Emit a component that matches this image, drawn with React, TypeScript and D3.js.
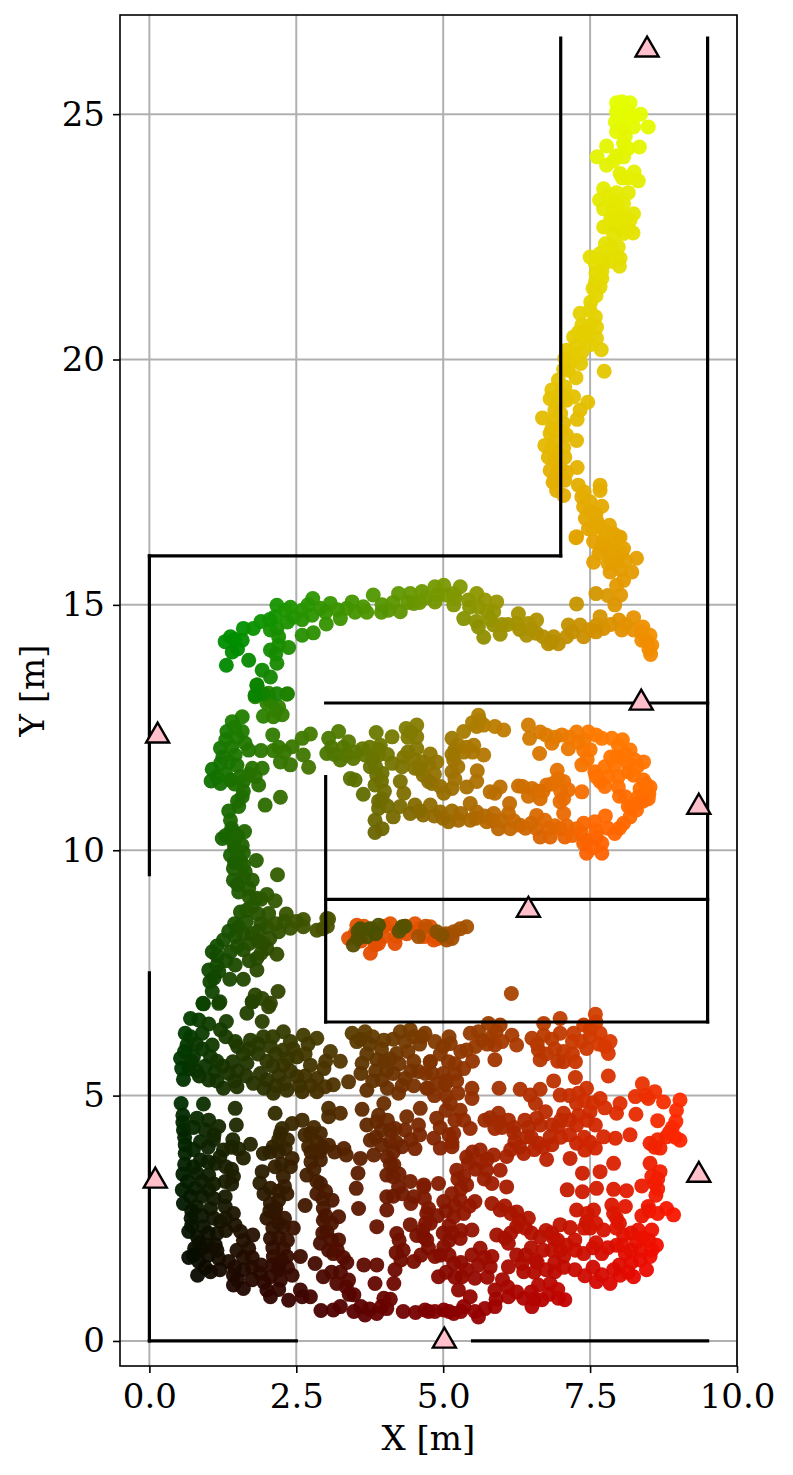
import React, { useEffect, useRef } from "react";
import * as d3 from "d3";

type Pt = [number, number];
type RoomPt = [number, number, number];

const xTicks = [0, 2.5, 5, 7.5, 10];
const yTicks = [0, 5, 10, 15, 20, 25];

// walls of the floor plan, [x1, y1, x2, y2] in metres
const walls = [
	[0, 0, 2.5, 0],
	[5.5, 0, 9.5, 0],
	[0, 0, 0, 7.5],
	[0, 9.5, 0, 16],
	[0, 16, 7, 16],
	[7, 16, 7, 26.55],
	[9.5, 6.5, 9.5, 26.55],
	[3, 6.5, 9.5, 6.5],
	[3, 6.5, 3, 11.5],
	[3, 9, 9.5, 9],
	[3, 13, 9.5, 13],
];

const anchors: Pt[] = [
	[8.47, 26.31],
	[8.37, 13.0],
	[9.35, 10.88],
	[6.45, 8.78],
	[0.14, 12.33],
	[0.1, 3.26],
	[9.35, 3.38],
	[5.02, 0.0],
];

const hallSouthWest: Pt[] = [
	[0.7, 6.57], [0.84, 6.54], [1.01, 6.46], [1.31, 6.51], [1.21, 6.34], [0.61, 6.27], [0.9, 6.27], [1.07, 6.03], [0.64, 6.03], [0.53, 5.76], [0.75, 5.79], [1.04, 5.79],
	[0.67, 5.55], [0.58, 5.33], [0.85, 5.4], [1.12, 5.49], [1.01, 5.32], [1.42, 5.69], [1.46, 6.1], [1.72, 6.13], [1.94, 6.2], [2.28, 6.3], [2.62, 6.23], [2.85, 6.17],
	[2.06, 6.0], [2.28, 5.93], [1.66, 5.66], [1.89, 5.45], [2.0, 5.32], [1.77, 5.25], [1.49, 5.18], [1.26, 5.15], [2.28, 5.62], [2.51, 5.79], [2.74, 5.62], [2.97, 5.55],
	[3.08, 5.9], [3.25, 5.7], [2.51, 5.39], [2.34, 5.11], [2.11, 5.05], [2.85, 5.08], [3.13, 5.22], [3.39, 5.28], [2.99, 5.18], [2.6, 5.08], [0.92, 6.87], [1.18, 6.88],
	[1.66, 6.68], [1.92, 6.51], [1.75, 6.91], [2.03, 6.81], [0.54, 4.84], [0.57, 4.6], [0.92, 4.83], [1.46, 4.74], [1.48, 4.4], [0.81, 4.54], [1.01, 4.5], [1.18, 4.37],
	[0.58, 4.3], [0.61, 4.0], [0.61, 3.82], [0.87, 4.06], [1.09, 4.1], [1.42, 4.1], [1.72, 4.01], [1.52, 3.91], [1.6, 3.73], [1.26, 3.89], [0.87, 3.69], [1.12, 3.62],
	[0.57, 3.4], [0.81, 3.42], [1.01, 3.38], [1.43, 3.35], [1.29, 3.25], [0.56, 3.08], [0.78, 3.11], [1.01, 3.08], [0.58, 2.8], [1.29, 2.94], [0.8, 2.74], [1.04, 2.7],
	[1.29, 2.74], [1.43, 2.6], [0.71, 2.5], [1.21, 2.43], [1.46, 2.36], [0.92, 2.33], [0.67, 2.23], [1.15, 2.19], [0.82, 2.11], [1.12, 1.96], [1.55, 2.23], [1.76, 2.16],
	[1.49, 1.85], [1.69, 1.89], [0.77, 1.89], [0.9, 1.89], [0.67, 1.7], [0.84, 1.62], [1.18, 1.68], [1.35, 1.62], [1.04, 1.41], [0.82, 1.34], [2.14, 4.64], [2.26, 4.33],
	[2.43, 4.43], [2.6, 4.5], [2.23, 4.23], [2.11, 3.96], [1.94, 3.82], [2.31, 3.92], [2.43, 3.72], [2.14, 3.55], [1.92, 3.45], [2.28, 3.35], [1.88, 3.22], [2.06, 3.11],
	[2.34, 3.0], [2.06, 2.8], [2.2, 2.87], [2.0, 2.5], [2.14, 2.6], [2.28, 2.33], [2.45, 2.3], [2.06, 2.09], [2.28, 1.89], [2.11, 1.72], [2.34, 1.72], [2.57, 1.72],
	[2.43, 1.34], [2.06, 1.31], [2.23, 1.24], [2.0, 1.04], [2.06, 0.9], [2.37, 0.83], [2.6, 0.9], [2.74, 0.9], [2.57, 1.04], [1.43, 1.34], [1.6, 1.45], [1.75, 1.5],
	[1.43, 1.14], [1.6, 1.07], [1.89, 1.38], [3.05, 4.74], [3.25, 4.64], [3.05, 4.57], [2.91, 4.23], [2.74, 4.23], [2.71, 3.96], [3.05, 3.99], [3.31, 3.92], [3.35, 3.79],
	[2.91, 3.69], [2.68, 3.38], [2.91, 3.21], [2.85, 3.0], [3.11, 2.87], [2.65, 2.76], [2.96, 2.7], [3.22, 2.53], [2.96, 2.46], [3.02, 2.23], [3.22, 2.06], [2.91, 1.99],
	[3.13, 1.78], [2.82, 1.58], [3.36, 1.6], [2.96, 1.31], [3.19, 1.17], [3.39, 1.24], [3.48, 0.94], [3.62, 4.72], [3.99, 4.84], [4.61, 4.74], [3.7, 4.4], [3.87, 4.47],
	[4.38, 4.57], [4.18, 4.33], [4.58, 4.4], [3.76, 4.09], [4.1, 4.06], [4.3, 3.96], [4.52, 3.92], [3.59, 3.72], [3.82, 3.79], [4.16, 3.59], [3.55, 3.42], [4.04, 3.38],
	[3.52, 3.11], [4.24, 3.14], [4.44, 3.25], [4.67, 3.18], [3.56, 2.7], [4.04, 2.94], [4.5, 2.94], [4.04, 2.67], [3.87, 2.33], [4.21, 2.19], [4.44, 2.37], [4.67, 2.12],
	[4.72, 2.6], [4.32, 1.85], [4.5, 1.62], [4.18, 1.45], [4.16, 1.17], [3.65, 1.55], [3.87, 1.55], [3.84, 1.17], [2.92, 0.62], [3.13, 0.63], [3.48, 0.6], [3.67, 0.53],
	[3.87, 0.56], [4.04, 0.66], [4.32, 0.6], [4.53, 0.58], [4.75, 0.6], [3.99, 0.87], [3.45, 6.27], [3.67, 6.3], [3.53, 6.1], [3.99, 6.13], [4.27, 6.3], [4.44, 6.34],
	[4.64, 6.2], [4.21, 5.86], [3.62, 5.66], [3.87, 5.73], [4.04, 5.52], [4.35, 5.35], [4.58, 5.49], [4.78, 5.69], [3.7, 5.11], [3.96, 5.32], [4.24, 5.05], [4.72, 5.15],
	[0.7, 6.2], [0.8, 6.05], [0.6, 5.9], [0.9, 5.95], [0.72, 5.7], [0.95, 5.6], [0.55, 5.55], [0.8, 5.5], [1.15, 5.7], [1.25, 5.6], [1.35, 5.45], [1.5, 5.5],
	[1.6, 5.85], [1.5, 6.0], [1.3, 6.2], [1.7, 5.95], [1.85, 5.85], [2.0, 5.7], [2.15, 5.85], [2.1, 5.6], [1.85, 6.05], [2.1, 6.2], [2.4, 6.1], [2.45, 5.95],
	[2.7, 6.05], [2.65, 5.85], [2.35, 5.75], [2.4, 5.5], [2.2, 5.4], [2.65, 5.4], [2.85, 5.35], [2.15, 5.2], [1.95, 5.15], [1.65, 5.4], [1.45, 5.3], [1.15, 5.3],
	[2.75, 5.2], [2.3, 5.25], [2.55, 5.2], [3.0, 5.7], [3.6, 6.15], [3.8, 6.2], [3.75, 6.05], [3.95, 5.95], [4.15, 6.15], [4.35, 6.1], [4.5, 6.2], [4.6, 6.05],
	[4.4, 5.9], [4.1, 5.75], [4.25, 5.65], [3.7, 5.85], [3.85, 5.5], [4.0, 5.7], [4.5, 5.7], [4.7, 5.45], [4.45, 5.5], [4.15, 5.45], [3.8, 5.3], [4.5, 5.2],
	[4.05, 5.15], [4.3, 5.2], [3.6, 5.45], [0.57, 4.45], [0.6, 4.15], [0.75, 4.35], [0.95, 4.3], [1.1, 4.2], [0.75, 3.9], [1.0, 3.95], [1.2, 3.75], [1.4, 3.95],
	[0.6, 3.6], [0.75, 3.55], [1.0, 3.65], [1.3, 3.55], [1.4, 3.5], [0.65, 3.25], [0.9, 3.25], [1.1, 3.2], [1.4, 3.2], [0.7, 2.95], [0.9, 2.95], [1.1, 2.9],
	[0.72, 2.65], [0.9, 2.55], [1.1, 2.5], [1.3, 2.5], [0.72, 2.35], [1.0, 2.2], [1.3, 2.25], [0.85, 2.0], [1.0, 1.95], [1.0, 1.75], [0.75, 1.75], [1.15, 1.85],
	[1.6, 2.05], [1.6, 1.7], [1.45, 1.5], [1.75, 1.7], [1.9, 1.55], [2.1, 1.55], [2.2, 1.45], [2.35, 1.5], [1.5, 1.25], [1.75, 1.25], [1.95, 1.2], [2.2, 1.05],
	[0.95, 1.5], [1.2, 1.45], [2.2, 4.1], [2.35, 4.1], [2.05, 3.85], [2.2, 3.85], [2.4, 3.55], [2.25, 3.6], [2.3, 3.15], [2.2, 3.05], [1.95, 3.0], [2.15, 2.7],
	[2.05, 2.65], [2.3, 2.5], [2.2, 2.4], [2.1, 2.3], [2.2, 2.1], [2.35, 2.05], [2.1, 1.9], [2.25, 1.65], [2.2, 1.5], [2.8, 4.35], [2.65, 4.2], [2.85, 4.05],
	[2.95, 3.95], [2.75, 3.85], [2.9, 3.85], [3.15, 3.85], [2.75, 3.65], [2.8, 3.5], [2.85, 3.25], [3.0, 3.05], [2.95, 2.9], [3.0, 2.55], [3.1, 2.4], [2.95, 2.2],
	[3.1, 2.05], [3.05, 1.85], [3.2, 1.85], [3.3, 1.7], [3.25, 1.4], [3.1, 1.4], [3.35, 1.1], [3.4, 0.95], [3.25, 0.7], [3.6, 0.7], [3.75, 0.65], [3.95, 0.7],
	[4.1, 0.85], [3.9, 4.6], [4.05, 4.5], [4.1, 4.3], [3.95, 4.3], [4.35, 4.3], [3.85, 4.15], [3.95, 4.0], [4.2, 4.05], [4.45, 4.1], [4.6, 4.2], [4.15, 3.85],
	[4.05, 3.75], [4.1, 3.6], [4.15, 3.35], [4.25, 3.4], [4.3, 3.0], [4.15, 2.95], [4.45, 2.8], [4.7, 2.4], [4.65, 2.25], [4.55, 2.15], [4.25, 2.05], [4.28, 1.65],
	[4.2, 1.8], [4.75, 1.9], [4.62, 1.75], [4.68, 2.9],
];

const hallSouthEast: Pt[] = [
	[6.16, 7.08], [4.69, 6.27], [4.86, 6.1], [5.12, 6.06], [5.46, 6.27], [5.77, 6.47], [5.97, 6.44], [6.17, 6.23], [5.83, 6.2], [5.66, 6.13], [5.4, 5.93], [5.88, 6.03], [6.25, 6.03],
	[6.51, 6.17], [6.71, 6.47], [6.71, 6.23], [6.99, 6.57], [6.99, 6.27], [7.59, 6.66], [7.39, 6.44], [7.22, 6.27], [7.5, 6.2], [7.84, 6.1], [7.67, 6.27], [6.62, 5.93],
	[6.65, 5.73], [7.05, 5.9], [7.05, 5.69], [7.25, 5.69], [7.44, 5.96], [7.81, 5.86], [7.81, 5.4], [7.25, 5.37], [6.88, 5.3], [4.78, 5.69], [5.09, 5.69], [4.81, 5.45],
	[5.35, 5.55], [5.5, 5.7], [5.88, 5.73], [5.23, 5.3], [5.49, 5.15], [4.75, 5.15], [5.03, 5.22], [5.95, 5.15], [6.31, 5.13], [6.65, 5.13], [7.44, 5.15], [8.39, 5.24],
	[8.6, 5.08], [8.27, 4.98], [8.49, 4.94], [9.03, 4.91], [8.75, 4.87], [8.01, 4.84], [7.67, 4.94], [6.99, 5.01], [6.48, 5.01], [5.49, 4.94], [5.29, 4.7], [4.89, 4.54],
	[5.12, 4.84], [6.57, 4.84], [6.74, 4.67], [7.27, 4.84], [7.5, 4.67], [7.05, 4.64], [7.95, 4.64], [8.28, 4.62], [8.97, 4.7], [8.65, 4.49], [8.96, 4.47], [6.59, 4.54],
	[5.94, 4.64], [5.71, 4.5], [6.11, 4.5], [6.39, 4.5], [5.88, 4.33], [5.46, 4.33], [7.27, 4.4], [7.59, 4.4], [6.96, 4.37], [7.73, 4.16], [7.93, 4.13], [8.18, 4.2],
	[8.8, 4.16], [9.03, 4.09], [8.52, 4.03], [8.69, 3.93], [6.42, 4.16], [6.22, 4.06], [6.82, 4.16], [6.62, 4.03], [7.27, 4.03], [7.59, 3.93], [7.41, 3.89], [5.18, 4.23],
	[4.84, 4.13], [4.95, 3.93], [5.15, 3.96], [5.63, 3.89], [5.86, 3.79], [6.08, 3.76], [6.37, 3.82], [6.76, 3.7], [7.16, 3.72], [7.9, 3.62], [8.52, 3.62], [5.43, 3.62],
	[5.23, 3.48], [5.74, 3.48], [5.97, 3.48], [7.37, 3.42], [7.67, 3.45], [8.69, 3.45], [5.4, 3.18], [5.83, 3.21], [6.08, 3.14], [4.92, 3.21], [4.67, 3.14], [7.11, 3.08],
	[7.37, 3.04], [7.61, 3.11], [7.9, 3.09], [8.12, 3.06], [8.38, 3.16], [8.6, 3.21], [8.62, 2.97], [5.01, 2.84], [5.29, 2.87], [5.54, 2.84], [5.83, 2.8], [5.97, 2.67],
	[6.25, 2.63], [4.75, 2.7], [5.18, 2.53], [5.35, 2.6], [7.27, 2.67], [7.56, 2.67], [7.87, 2.77], [8.1, 2.74], [8.49, 2.74], [8.8, 2.7], [8.92, 2.57], [8.38, 2.55],
	[7.95, 2.5], [6.45, 2.5], [6.25, 2.33], [6.99, 2.37], [7.16, 2.31], [7.44, 2.43], [7.73, 2.26], [8.32, 2.26], [8.55, 2.26], [4.78, 2.4], [5.49, 2.26], [5.29, 2.09],
	[5.91, 2.16], [6.11, 1.99], [6.65, 2.12], [6.88, 2.09], [7.24, 2.06], [8.07, 2.16], [8.29, 2.02], [8.63, 1.95], [7.95, 1.95], [4.72, 2.06], [5.01, 1.92], [4.86, 1.72],
	[5.63, 1.89], [5.49, 1.75], [5.83, 1.72], [6.34, 1.58], [6.57, 1.65], [7.05, 1.72], [7.39, 1.78], [7.7, 1.78], [8.1, 1.78], [8.52, 1.72], [8.35, 1.65], [5.18, 1.58],
	[5.8, 1.51], [6.11, 1.51], [6.9, 1.41], [7.24, 1.45], [7.41, 1.33], [7.61, 1.21], [7.84, 1.17], [8.01, 1.34], [8.24, 1.31], [8.46, 1.45], [4.92, 1.31], [5.32, 1.31],
	[5.54, 1.28], [6.01, 1.25], [6.37, 1.41], [6.62, 1.14], [6.82, 1.17], [5.26, 1.04], [5.46, 0.9], [5.88, 1.04], [6.11, 0.9], [6.37, 0.87], [6.68, 0.84], [6.96, 0.87],
	[7.07, 0.84], [6.51, 0.7], [5.88, 0.7], [5.71, 0.66], [5.54, 0.6], [5.6, 0.49], [5.35, 0.7], [5.18, 0.56], [5.01, 0.63], [4.86, 0.6], [4.69, 0.63],
	[5.1, 6.2], [5.3, 5.9], [5.55, 6.0], [5.75, 6.05], [5.6, 6.3], [5.9, 6.3], [6.0, 6.1], [6.6, 6.05], [6.85, 6.15], [6.75, 5.85], [6.9, 5.95], [7.2, 6.1],
	[7.35, 6.1], [7.5, 6.35], [7.65, 6.05], [7.75, 6.0], [7.2, 5.85], [7.6, 6.5], [6.95, 5.7], [4.95, 5.85], [5.0, 6.0], [5.2, 5.45], [5.0, 5.45], [5.2, 5.65],
	[5.05, 5.3], [4.9, 5.25], [4.85, 5.0], [5.05, 5.0], [5.25, 5.05], [5.05, 4.7], [5.2, 4.5], [4.95, 4.35], [5.1, 4.2], [5.15, 4.05], [5.35, 4.5], [7.15, 5.0],
	[7.3, 5.05], [7.4, 4.9], [7.55, 4.85], [7.75, 4.75], [7.3, 4.6], [7.45, 4.5], [7.15, 4.5], [7.0, 4.5], [6.85, 4.4], [6.65, 4.4], [6.45, 4.35], [6.2, 4.35],
	[6.0, 4.35], [5.8, 4.55], [5.95, 4.45], [6.5, 4.15], [6.55, 3.9], [6.7, 3.95], [6.85, 4.0], [7.0, 4.15], [7.15, 4.2], [6.2, 4.25], [6.15, 3.9], [6.3, 3.95],
	[7.4, 4.15], [7.5, 4.05], [8.45, 5.0], [8.9, 4.35], [8.85, 4.25], [8.95, 4.15], [8.65, 4.1], [8.6, 3.95], [8.55, 3.35], [8.65, 3.3], [8.65, 3.1], [8.5, 2.65],
	[8.65, 2.6], [5.5, 3.85], [5.4, 3.75], [5.65, 3.65], [5.75, 3.7], [5.55, 3.5], [5.7, 3.3], [5.35, 3.35], [5.25, 3.3], [5.3, 3.1], [5.15, 3.0], [5.2, 2.75],
	[5.45, 2.75], [5.05, 2.65], [4.9, 2.55], [5.1, 2.35], [5.0, 2.2], [5.3, 2.25], [5.15, 2.2], [5.1, 2.05], [4.95, 1.75], [5.1, 1.75], [5.3, 1.6], [5.05, 1.4],
	[5.2, 1.3], [5.4, 1.45], [6.05, 2.75], [6.15, 2.6], [6.3, 2.45], [6.4, 2.3], [6.15, 2.2], [6.05, 2.1], [6.5, 2.2], [6.75, 2.25], [6.85, 2.2], [6.95, 2.05],
	[7.1, 1.95], [6.5, 1.9], [6.4, 1.75], [6.25, 1.75], [6.7, 1.85], [6.85, 1.85], [7.0, 1.85], [7.25, 1.85], [7.55, 1.9], [7.6, 2.0], [7.5, 2.3], [7.6, 2.4],
	[7.45, 2.6], [7.4, 2.3], [7.9, 2.6], [8.0, 2.4], [7.95, 2.3], [7.8, 1.9], [8.2, 2.2], [8.4, 2.1], [8.5, 2.05], [8.55, 1.85], [8.35, 1.85], [8.2, 1.85],
	[8.05, 1.95], [8.2, 1.6], [8.0, 1.55], [7.9, 1.45], [7.7, 1.35], [8.15, 1.4], [7.55, 1.5], [7.05, 1.5], [6.9, 1.6], [6.75, 1.45], [6.55, 1.4], [6.6, 1.6],
	[5.9, 0.85], [6.1, 1.1], [6.25, 1.0], [6.5, 1.0], [6.55, 0.85], [6.8, 0.95], [6.95, 1.05], [5.3, 0.6], [5.1, 0.6], [5.6, 1.55], [5.7, 1.7], [5.75, 1.3],
];

const westStem: Pt[] = [
	[1.83, 13.37], [1.8, 13.13], [2.03, 13.2], [2.34, 13.18], [2.2, 12.92], [2.26, 12.76], [1.94, 12.73], [2.11, 12.72], [1.58, 12.72], [1.41, 12.62], [1.32, 12.42], [1.58, 12.42],
	[2.1, 12.35], [1.63, 12.18], [1.21, 12.08], [1.69, 12.04], [1.9, 12.03], [2.11, 12.03], [1.46, 11.94], [2.23, 11.8], [2.4, 11.74], [2.43, 12.11], [2.6, 12.28], [2.74, 12.37],
	[2.62, 11.94], [2.71, 11.69], [1.21, 11.77], [1.07, 11.65], [1.05, 11.41], [1.21, 11.36], [1.38, 11.43], [1.49, 11.73], [1.75, 11.67], [1.92, 11.67], [1.6, 11.4], [1.86, 11.33],
	[1.58, 11.09], [1.52, 10.89], [1.97, 10.92], [2.23, 11.08], [1.38, 10.61], [1.62, 10.38], [1.24, 10.24], [1.41, 10.38], [1.43, 10.17], [1.58, 10.1], [1.38, 9.9], [1.82, 9.79],
	[1.55, 9.77], [1.43, 9.63], [2.18, 9.5], [1.63, 9.56], [1.43, 9.39], [1.75, 9.39], [1.52, 9.15], [1.69, 9.22], [2.0, 9.1], [2.14, 8.97], [1.83, 9.02], [1.55, 8.74],
	[1.66, 8.78], [2.03, 8.71], [2.33, 8.7], [2.62, 8.59], [3.02, 8.61], [1.52, 8.44], [1.75, 8.3], [2.0, 8.44], [2.2, 8.34], [2.4, 8.41], [2.62, 8.44], [2.85, 8.37],
	[3.03, 8.45], [1.26, 8.17], [1.46, 8.24], [1.6, 7.97], [1.94, 8.1], [2.17, 7.88], [1.07, 7.93], [1.38, 7.93], [1.83, 7.8], [1.83, 7.56], [1.01, 7.56], [1.18, 7.53],
	[1.46, 7.66], [1.37, 7.37], [1.6, 7.37], [1.03, 7.32], [1.07, 7.12], [1.2, 6.91], [0.91, 6.88], [2.19, 7.12], [1.8, 7.05], [1.92, 6.98], [1.75, 6.91], [2.06, 6.88],
	[1.5, 12.3], [1.45, 12.5], [1.3, 12.25], [1.4, 12.1], [1.25, 11.9], [1.35, 11.8], [1.15, 11.5], [1.3, 11.55], [1.45, 11.35], [1.55, 11.5], [1.7, 11.55], [1.8, 11.5],
	[2.2, 12.1], [2.3, 12.0], [1.6, 11.2], [1.5, 11.0], [1.35, 10.8], [1.4, 10.45], [1.3, 10.3], [1.5, 10.3], [1.45, 10.05], [1.6, 9.95], [1.5, 9.9], [1.6, 9.7],
	[1.45, 9.75], [1.6, 9.45], [1.5, 9.3], [1.7, 9.05], [1.9, 9.0], [1.75, 8.85], [1.85, 8.7], [1.65, 8.55], [1.9, 8.5], [1.85, 8.35], [1.6, 8.3], [1.7, 8.1],
	[2.05, 8.2], [1.85, 8.15], [2.0, 8.0], [1.9, 7.9], [1.5, 8.05], [1.3, 7.75], [1.15, 7.85], [1.7, 7.75], [1.15, 7.65], [1.1, 7.4], [2.3, 8.55], [2.5, 8.55],
	[2.95, 8.4], [3.05, 8.6], [2.15, 8.5], [1.45, 8.5], [1.35, 8.35], [1.15, 8.05], [2.0, 13.0], [2.15, 12.85], [2.05, 13.05],
];

const midCorridor: Pt[] = [
	[3.22, 12.42], [3.05, 12.28], [3.39, 12.21], [3.02, 11.97], [3.25, 11.84], [3.63, 12.07], [3.47, 11.87], [3.86, 12.4], [4.13, 12.31], [3.93, 12.14], [3.67, 11.94], [4.37, 12.48],
	[4.55, 12.55], [4.55, 12.31], [4.55, 12.07], [4.33, 11.9], [4.13, 11.77], [3.9, 11.94], [3.76, 11.7], [3.87, 11.53], [3.96, 11.57], [3.42, 11.46], [3.5, 11.43], [3.64, 11.14],
	[3.84, 11.33], [3.96, 11.05], [4.27, 11.4], [4.33, 11.16], [4.78, 11.96], [4.89, 11.8], [4.52, 11.67], [4.66, 11.53], [4.81, 11.36], [5.15, 12.28], [5.35, 12.42], [5.6, 12.75],
	[5.57, 12.52], [5.69, 12.55], [5.88, 12.52], [6.03, 12.45], [5.35, 12.0], [5.52, 12.14], [5.69, 11.94], [5.18, 11.84], [5.15, 11.6], [5.15, 11.26], [5.01, 11.16], [5.4, 11.29],
	[5.58, 11.62], [5.57, 11.4], [5.8, 11.19], [5.97, 11.29], [5.88, 11.16], [6.28, 11.31], [6.51, 11.26], [6.76, 11.33], [6.65, 11.05], [6.94, 11.63], [7.05, 11.4], [7.13, 11.23],
	[7.36, 11.19], [6.99, 10.99], [7.05, 10.75], [6.59, 10.71], [6.13, 10.95], [3.9, 10.85], [4.15, 10.68], [4.27, 10.89], [4.52, 10.92], [4.44, 10.75], [4.66, 10.72], [4.78, 10.92],
	[4.95, 10.78], [5.09, 10.58], [5.26, 10.61], [5.46, 10.95], [5.57, 10.78], [5.46, 10.61], [5.74, 10.58], [5.86, 10.75], [6.11, 10.75], [5.94, 10.44], [6.14, 10.44], [6.31, 10.51],
	[6.59, 10.44], [6.65, 10.27], [6.82, 10.27], [6.73, 10.61], [6.99, 10.44], [7.27, 10.44], [7.07, 10.27], [7.39, 10.55], [7.76, 10.7], [7.58, 10.58], [3.84, 10.61], [3.84, 10.36],
	[3.96, 10.44], [7.61, 10.27], [7.39, 10.14], [7.7, 10.14], [7.44, 9.94], [7.7, 9.94], [7.92, 10.34], [8.07, 10.55], [8.18, 10.68], [8.29, 10.82], [8.15, 10.89], [8.49, 11.05],
	[8.1, 11.09], [8.32, 11.09], [8.52, 11.29], [8.41, 11.43], [7.98, 11.29], [7.67, 11.4], [7.58, 11.6], [7.92, 11.74], [8.41, 11.8], [8.18, 12.04], [7.98, 12.14], [8.15, 11.77],
	[7.98, 11.5], [8.24, 11.53], [7.87, 12.28], [7.7, 12.28], [7.47, 12.41], [7.27, 12.41], [7.02, 12.35], [6.85, 12.18], [7.13, 12.07], [7.39, 12.04], [7.36, 11.74], [6.65, 12.41],
	[6.45, 12.55], [6.47, 12.28], [6.64, 11.97], [3.1, 12.1], [3.3, 12.1], [3.15, 11.95], [3.35, 11.95], [3.5, 12.0], [3.75, 12.1], [3.9, 12.05], [4.05, 11.95], [3.8, 11.85],
	[4.4, 12.3], [4.45, 12.4], [4.4, 12.0], [4.3, 11.7], [4.5, 11.85], [4.65, 11.8], [4.75, 11.75], [4.6, 11.65], [4.85, 11.55], [4.75, 11.4], [4.95, 11.3], [3.85, 11.7],
	[3.95, 11.4], [4.0, 11.2], [3.9, 11.0], [4.05, 10.9], [4.6, 10.8], [4.85, 10.7], [5.0, 10.65], [5.15, 10.8], [5.3, 10.75], [5.55, 10.65], [5.7, 10.7], [5.85, 10.6],
	[6.0, 10.6], [6.2, 10.6], [6.4, 10.45], [6.5, 10.55], [6.8, 10.45], [6.9, 10.5], [7.1, 10.5], [7.2, 10.3], [7.35, 10.35], [7.45, 10.2], [7.55, 10.05], [7.6, 10.4],
	[5.25, 12.15], [5.2, 12.05], [5.15, 11.95], [5.4, 12.1], [5.5, 12.0], [5.62, 12.65], [5.5, 12.6], [5.25, 11.7], [5.2, 11.45], [6.35, 11.3], [6.45, 11.1], [6.6, 11.2],
	[6.7, 11.2], [6.85, 11.35], [7.0, 11.2], [7.05, 11.05], [6.95, 11.45], [7.8, 10.45], [8.0, 10.45], [8.2, 10.85], [8.3, 10.95], [8.4, 11.0], [8.35, 11.25], [8.5, 11.15],
	[8.45, 11.35], [8.0, 11.1], [8.05, 11.9], [8.1, 11.95], [8.25, 11.85], [8.15, 11.6], [8.3, 11.7], [7.8, 11.5], [7.75, 11.7], [7.85, 11.9], [7.95, 11.9], [8.05, 12.25],
	[7.6, 12.35], [7.4, 12.25], [7.15, 12.3], [7.3, 12.2], [7.5, 12.05], [7.45, 11.85], [6.9, 12.3], [6.75, 12.35], [7.6, 11.5], [7.75, 11.3],
];

// third value: the x the colour comes from, these estimates landed far from it
const roomEstimates: RoomPt[] = [
	[3.39, 8.2, 8.2], [3.53, 8.47, 8.2], [3.76, 7.9, 8.2], [3.84, 8.07, 8.2], [4.18, 8.1, 8.2], [4.1, 8.5, 8.2], [4.24, 8.37, 8.2], [4.52, 8.5, 8.2], [4.38, 8.3, 8.2], [4.78, 8.44, 8.2],
	[4.84, 8.17, 8.2], [3.98, 8.24, 8.2], [4.67, 8.24, 8.2], [3.5, 8.3, 8.2], [3.65, 8.45, 8.2], [3.8, 8.4, 8.2], [4.0, 8.45, 8.2], [3.6, 8.15, 8.2], [3.9, 8.1, 8.2], [4.2, 8.25, 8.2],
	[4.35, 8.45, 8.2], [4.6, 8.4, 8.2], [4.7, 8.45, 7], [4.9, 8.2, 8.2], [4.58, 8.24, 6], [5.06, 8.17, 6], [5.18, 8.34, 6], [5.4, 8.44, 6], [5.29, 8.4, 6], [4.89, 8.34, 5],
	[5.05, 8.3, 6], [5.15, 8.2, 6], [3.47, 8.07, 3.4], [3.59, 8.4, 3], [3.7, 8.24, 3.2], [3.9, 8.47, 3], [4.3, 8.44, 3.4], [4.98, 8.27, 5], [3.55, 8.35, 3.2], [3.75, 8.4, 3],
	[3.85, 8.3, 3], [3.55, 8.2, 3.2], [4.25, 8.35, 3.6], [4.35, 8.45, 3.4],
];

const northArc: Pt[] = [
	[1.29, 14.25], [1.38, 14.35], [1.41, 14.04], [1.31, 13.77], [1.58, 14.28], [1.6, 14.52], [1.77, 14.52], [1.9, 14.66], [1.69, 13.87], [2.06, 14.49], [2.17, 14.99], [2.14, 14.76],
	[2.31, 14.89], [2.17, 14.52], [2.06, 14.08], [2.2, 14.18], [2.37, 14.13], [2.17, 13.81], [1.92, 13.67], [2.06, 13.53], [1.83, 13.36], [1.94, 13.19], [2.17, 13.19], [2.35, 13.19],
	[1.8, 13.16], [2.6, 14.89], [2.77, 14.79], [2.78, 15.13], [2.6, 14.38], [2.79, 14.43], [3.01, 14.61], [3.08, 15.03], [3.25, 14.72], [2.91, 14.93], [3.45, 15.06], [3.36, 14.93],
	[3.64, 14.96], [3.81, 15.2], [3.96, 15.0], [4.07, 14.89], [4.27, 14.86], [4.24, 15.23], [4.44, 15.23], [4.5, 15.03], [4.64, 15.27], [4.86, 15.37], [5.01, 15.4], [4.86, 15.06],
	[5.18, 15.23], [5.29, 15.37], [5.18, 15.0], [5.43, 15.1], [5.57, 15.23], [5.71, 15.1], [5.91, 15.06], [5.35, 14.72], [5.56, 14.66], [5.86, 14.86], [5.69, 14.34], [5.97, 14.4],
	[5.86, 14.59], [6.28, 14.82], [6.25, 14.62], [6.45, 14.62], [6.42, 14.38], [6.59, 14.69], [6.59, 14.42], [6.79, 14.21], [6.96, 14.21], [6.88, 14.35], [7.13, 14.59], [7.1, 14.35],
	[7.39, 14.35], [7.33, 14.59], [7.61, 14.59], [7.73, 14.52], [7.67, 14.76], [7.99, 14.69], [8.04, 14.49], [8.24, 14.74], [8.24, 14.49], [8.38, 14.45], [8.52, 14.38], [8.38, 14.28],
	[8.55, 14.18], [8.53, 13.99], [7.27, 15.02], [7.6, 15.23], [7.8, 15.19], [8.02, 15.2], [7.92, 15.0], [1.5, 14.1], [1.45, 14.3], [2.05, 14.7], [2.4, 14.95], [2.45, 14.75],
	[2.6, 14.7], [2.7, 15.0], [2.35, 14.65], [2.2, 14.35], [2.15, 14.0], [3.0, 14.85], [3.2, 14.9], [3.5, 14.85], [3.7, 14.85], [3.95, 14.85], [4.15, 15.05], [4.4, 15.05],
	[4.6, 15.05], [4.7, 15.15], [4.9, 15.2], [5.05, 15.2], [5.2, 15.15], [5.45, 14.95], [5.6, 14.95], [5.75, 14.85], [5.6, 14.55], [5.8, 14.7], [6.0, 14.6], [6.1, 14.6],
	[6.3, 14.5], [6.5, 14.5], [6.7, 14.35], [6.85, 14.25], [7.2, 14.45], [7.5, 14.5], [7.6, 14.45], [7.85, 14.6], [8.1, 14.6], [8.4, 14.55], [8.47, 14.25], [8.5, 14.1],
];

const northHall: Pt[] = [
	[7.95, 25.23], [8.04, 25.25], [8.18, 25.23], [7.95, 25.05], [8.36, 25.0], [8.49, 24.74], [7.93, 24.84], [8.24, 24.74], [7.95, 24.64], [8.12, 24.88], [8.07, 24.4], [8.34, 24.33],
	[7.78, 24.35], [7.62, 24.13], [7.78, 23.96], [8.07, 24.13], [7.9, 24.05], [8.01, 23.79], [8.25, 23.82], [8.32, 23.64], [8.15, 23.4], [7.73, 23.48], [7.95, 23.4], [7.66, 23.25],
	[7.81, 23.35], [8.07, 23.18], [7.73, 23.07], [7.98, 23.0], [8.24, 22.97], [8.18, 22.84], [7.73, 22.7], [7.81, 22.74], [8.01, 22.7], [8.23, 22.58], [8.07, 22.57], [7.76, 22.36],
	[7.98, 22.29], [7.5, 22.09], [7.67, 22.16], [7.87, 22.16], [8.01, 22.06], [8.0, 21.9], [7.73, 21.95], [7.59, 21.95], [7.7, 21.65], [7.59, 21.58], [7.67, 21.48], [7.55, 21.45],
	[7.51, 21.17], [7.33, 20.94], [7.59, 20.87], [7.36, 20.7], [7.61, 20.66], [7.22, 20.46], [7.41, 20.46], [7.61, 20.43], [7.27, 20.29], [7.69, 20.2], [7.1, 20.19], [7.36, 20.15],
	[7.34, 19.92], [7.07, 20.02], [7.74, 19.76], [7.13, 19.78], [7.26, 19.63], [6.96, 19.58], [6.85, 19.38], [7.07, 19.44], [6.82, 19.2], [7.1, 19.17], [7.22, 19.24], [7.46, 19.13],
	[6.9, 18.97], [7.33, 18.97], [7.28, 18.78], [6.69, 18.81], [6.9, 18.76], [6.82, 18.49], [7.1, 18.46], [7.27, 18.35], [6.93, 18.35], [6.73, 18.25], [6.79, 18.01], [7.07, 18.01],
	[6.82, 17.74], [7.28, 17.8], [6.99, 17.81], [6.87, 17.5], [7.07, 17.54], [6.93, 17.33], [7.05, 17.23], [7.3, 17.44], [7.67, 17.44], [7.36, 17.2], [7.67, 17.33], [7.39, 17.0],
	[7.7, 17.01], [7.42, 16.76], [7.61, 16.72], [7.83, 16.62], [7.26, 16.37], [7.47, 16.55], [8.01, 16.38], [7.73, 16.32], [8.07, 16.15], [7.67, 16.15], [7.56, 15.87], [7.27, 16.39],
	[7.56, 16.29], [7.73, 16.22], [7.98, 16.39], [8.04, 16.05], [8.29, 15.95], [7.81, 15.84], [8.02, 15.72], [8.21, 15.67], [7.84, 15.67], [8.07, 15.5], [8.05, 25.1], [8.15, 25.05],
	[8.05, 24.7], [8.1, 24.55], [8.0, 24.95], [8.25, 24.95], [8.15, 24.3], [7.95, 24.15], [8.05, 23.7], [8.15, 23.7], [7.85, 23.25], [7.95, 23.2], [7.9, 23.05], [8.1, 22.9],
	[8.0, 22.85], [7.85, 22.85], [8.15, 22.65], [7.9, 22.55], [7.85, 22.3], [7.7, 22.05], [7.85, 22.0], [7.95, 22.1], [7.6, 21.75], [7.7, 21.8], [7.5, 21.0], [7.6, 21.3],
	[7.5, 20.7], [7.45, 20.55], [7.3, 20.55], [7.5, 20.3], [7.25, 20.1], [7.15, 19.95], [7.05, 19.8], [7.0, 19.3], [6.95, 19.1], [7.0, 18.9], [7.05, 18.7], [6.85, 18.6],
	[7.0, 18.55], [6.85, 18.2], [6.95, 18.1], [7.05, 18.2], [6.9, 17.95], [6.95, 17.7], [7.1, 17.7], [6.9, 17.55], [7.4, 17.3], [7.5, 17.1], [7.5, 16.9], [7.6, 16.85],
	[7.55, 16.55], [7.65, 16.6], [7.75, 16.5], [7.9, 16.45], [7.9, 16.15], [7.85, 15.95], [7.95, 15.9], [8.1, 15.9], [7.65, 16.05], [7.85, 16.1], [7.9, 16.25], [7.95, 15.4],
];

// the x the north hall's colour comes from
const northHallTrueX = 8.2;

const App = () => {
	const ref = useRef<SVGSVGElement>(null);

	useEffect(() => {
		const width = 793;
		const height = 1475;
		const left = 120;
		const right = 737;
		const top = 15;
		const bottom = 1366;
		const font = "'DejaVu Serif'";

		const svg = d3.select(ref.current);
		svg.selectAll("*").remove();
		svg.attr("width", width).attr("height", height);

		const x = d3.scaleLinear().domain([-0.5, 10]).range([left, right]);
		const y = d3.scaleLinear().domain([-0.51, 27.02]).range([bottom, top]);

		// colour follows position: red with x, green with y
		const red = d3.scaleLinear().domain([0.5, 9.1]).range([0, 255]).clamp(true);
		const redMid = d3.scaleLinear().domain([1.2, 7.6]).range([0, 255]).clamp(true);
		const redArc = d3.scaleLinear().domain([1.5, 8.9]).range([0, 255]).clamp(true);
		const green = d3.scaleLinear().domain([0.5, 25.3]).range([0, 255]).clamp(true);
		const colour = (r: number, cy: number) => d3.rgb(r, green(cy), 0).formatRgb();

		const grid = svg.append("g").attr("stroke", "#b0b0b0").attr("stroke-width", 2);
		grid
			.selectAll("line.gx")
			.data(xTicks)
			.join("line")
			.attr("class", "gx")
			.attr("x1", (d) => x(d))
			.attr("x2", (d) => x(d))
			.attr("y1", top)
			.attr("y2", bottom);
		grid
			.selectAll("line.gy")
			.data(yTicks)
			.join("line")
			.attr("class", "gy")
			.attr("y1", (d) => y(d))
			.attr("y2", (d) => y(d))
			.attr("x1", left)
			.attr("x2", right);

		const drawPoints = (points: number[][], fill: (d: number[]) => string) => {
			svg
				.append("g")
				.selectAll("circle")
				.data(points)
				.join("circle")
				.attr("cx", (d) => x(d[0]))
				.attr("cy", (d) => y(d[1]))
				.attr("r", 7.5)
				.attr("fill-opacity", 0.95)
				.attr("fill", fill);
		};
		drawPoints(hallSouthWest, (d) => colour(red(d[0]), d[1]));
		drawPoints(hallSouthEast, (d) => colour(red(d[0]), d[1]));
		drawPoints(westStem, (d) => colour(red(d[0]), d[1]));
		drawPoints(midCorridor, (d) => colour(redMid(d[0]), d[1]));
		drawPoints(roomEstimates, (d) => colour(red(d[2]), d[1]));
		drawPoints(northArc, (d) => colour(redArc(d[0]), d[1]));
		drawPoints(northHall, (d) => colour(red(northHallTrueX), d[1]));

		svg
			.append("g")
			.selectAll("line")
			.data(walls)
			.join("line")
			.attr("x1", (d) => x(d[0]))
			.attr("y1", (d) => y(d[1]))
			.attr("x2", (d) => x(d[2]))
			.attr("y2", (d) => y(d[3]))
			.attr("stroke", "black")
			.attr("stroke-width", 3.2)
			.attr("stroke-linecap", "square");

		svg
			.append("g")
			.selectAll("path")
			.data(anchors)
			.join("path")
			.attr("d", d3.symbol(d3.symbolTriangle, 230))
			.attr("transform", (d) => `translate(${x(d[0])},${y(d[1])})`)
			.attr("fill", "pink")
			.attr("stroke", "black")
			.attr("stroke-width", 2.4);

		const xAxis = svg
			.append("g")
			.attr("transform", `translate(0,${bottom})`)
			.call(d3.axisBottom(x).tickValues(xTicks).tickFormat(d3.format(".1f")).tickSizeOuter(0).tickSize(7).tickPadding(11));
		const yAxis = svg
			.append("g")
			.attr("transform", `translate(${left},0)`)
			.call(d3.axisLeft(y).tickValues(yTicks).tickFormat(d3.format("d")).tickSizeOuter(0).tickSize(7).tickPadding(8));
		[xAxis, yAxis].forEach((axis) => {
			axis.select(".domain").remove();
			axis.selectAll("line").attr("stroke", "black").attr("stroke-width", 1.6);
			axis.selectAll("text").attr("font-family", font).attr("font-size", 34).attr("fill", "black");
		});

		svg
			.append("rect")
			.attr("x", left)
			.attr("y", top)
			.attr("width", right - left)
			.attr("height", bottom - top)
			.attr("fill", "none")
			.attr("stroke", "black")
			.attr("stroke-width", 1.6);

		svg
			.append("text")
			.attr("x", (left + right) / 2)
			.attr("y", 1450)
			.attr("text-anchor", "middle")
			.attr("font-family", font)
			.attr("font-size", 34)
			.text("X [m]");
		svg
			.append("text")
			.attr("transform", `translate(44,${(top + bottom) / 2}) rotate(-90)`)
			.attr("text-anchor", "middle")
			.attr("font-family", font)
			.attr("font-size", 34)
			.text("Y [m]");
	}, []);

	return <svg ref={ref} style={{ position: "absolute", left: 0, top: 0 }}></svg>;
};

export default App;
